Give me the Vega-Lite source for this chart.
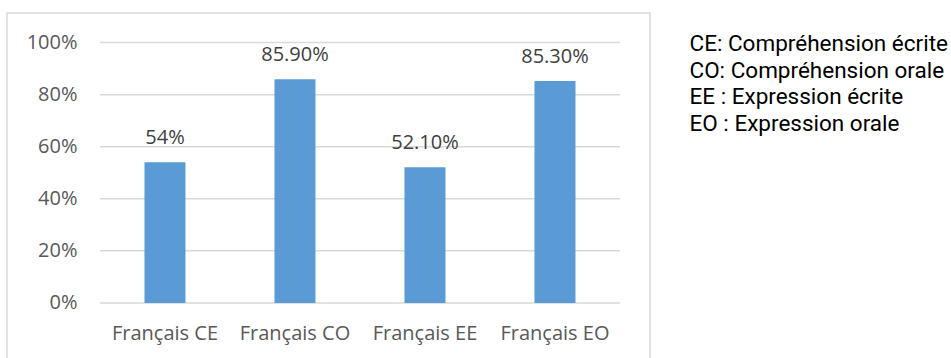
{
  "$schema": "https://vega.github.io/schema/vega-lite/v6.json",
  "width": 643,
  "height": 355,
  "autosize": "none",
  "padding": {"left": 7, "top": 13, "right": 301, "bottom": 0},
  "background": "white",
  "config": {
    "view": {"stroke": "#D9D9D9", "strokeWidth": 1.5},
    "font": "Open Sans"
  },
  "datasets": {
    "scores": [
      {"matiere": "Français CE", "taux": 0.54, "etiquette": "54%", "legende": "CE: Compréhension écrite"},
      {"matiere": "Français CO", "taux": 0.859, "etiquette": "85.90%", "legende": "CO: Compréhension orale"},
      {"matiere": "Français EE", "taux": 0.521, "etiquette": "52.10%", "legende": "EE : Expression écrite"},
      {"matiere": "Français EO", "taux": 0.853, "etiquette": "85.30%", "legende": "EO : Expression orale"}
    ],
    "graduations": [
      {"v": 0}, {"v": 0.2}, {"v": 0.4}, {"v": 0.6}, {"v": 0.8}, {"v": 1}
    ]
  },
  "resolve": {"axis": {"x": "independent", "y": "independent"}},
  "layer": [
    {
      "data": {"name": "graduations"},
      "mark": {"type": "rule", "color": "#D9D9D9", "strokeWidth": 1.5},
      "encoding": {
        "y": {"field": "v", "type": "quantitative", "axis": null},
        "x": {"datum": "Français CE", "type": "nominal", "bandPosition": 0, "axis": null},
        "x2": {"datum": "Français EO", "bandPosition": 1}
      }
    },
    {
      "data": {"name": "scores"},
      "mark": {"type": "bar", "size": 41},
      "encoding": {
        "x": {
          "field": "matiere",
          "type": "nominal",
          "sort": null,
          "title": null,
          "scale": {
            "domain": ["Français CE", "Français CO", "Français EE", "Français EO"],
            "paddingInner": 0,
            "paddingOuter": 0.473,
            "align": 0.756
          },
          "axis": {
            "orient": "bottom",
            "offset": -65.1,
            "domain": false,
            "ticks": false,
            "grid": false,
            "labelAngle": 0,
            "labelAlign": "center",
            "labelPadding": 21,
            "labelFont": "Open Sans",
            "labelFontSize": 20,
            "labelColor": "#595959"
          }
        },
        "y": {
          "field": "taux",
          "type": "quantitative",
          "title": null,
          "scale": {"domain": [-0.25, 1.1138], "nice": false, "zero": false},
          "axis": {
            "orient": "left",
            "values": [0, 0.2, 0.4, 0.6, 0.8, 1],
            "format": ".0%",
            "offset": -93,
            "domain": false,
            "ticks": false,
            "grid": false,
            "labelPadding": 23,
            "labelFont": "Open Sans",
            "labelFontSize": 20,
            "labelColor": "#595959"
          }
        },
        "y2": {"datum": 0},
        "color": {
          "field": "legende",
          "type": "nominal",
          "scale": {
            "domain": ["CE: Compréhension écrite", "CO: Compréhension orale", "EE : Expression écrite", "EO : Expression orale"],
            "range": ["#5B9BD5", "#5B9BD5", "#5B9BD5", "#5B9BD5"]
          },
          "legend": {
            "title": null,
            "orient": "none",
            "legendX": 660,
            "legendY": 20,
            "padding": 0,
            "symbolSize": 0,
            "symbolOpacity": 0,
            "symbolStrokeWidth": 0,
            "labelOffset": 0,
            "rowPadding": 3.5,
            "labelFont": "Roboto",
            "labelFontSize": 22.5,
            "labelColor": "#000000",
            "labelLimit": 400
          }
        }
      }
    },
    {
      "data": {"name": "scores"},
      "mark": {
        "type": "text",
        "baseline": "alphabetic",
        "dy": -18,
        "font": "Open Sans",
        "fontSize": 20,
        "color": "#404040"
      },
      "encoding": {
        "x": {"field": "matiere", "type": "nominal", "sort": null, "axis": null},
        "y": {"field": "taux", "type": "quantitative", "axis": null},
        "text": {"field": "etiquette"}
      }
    }
  ]
}
